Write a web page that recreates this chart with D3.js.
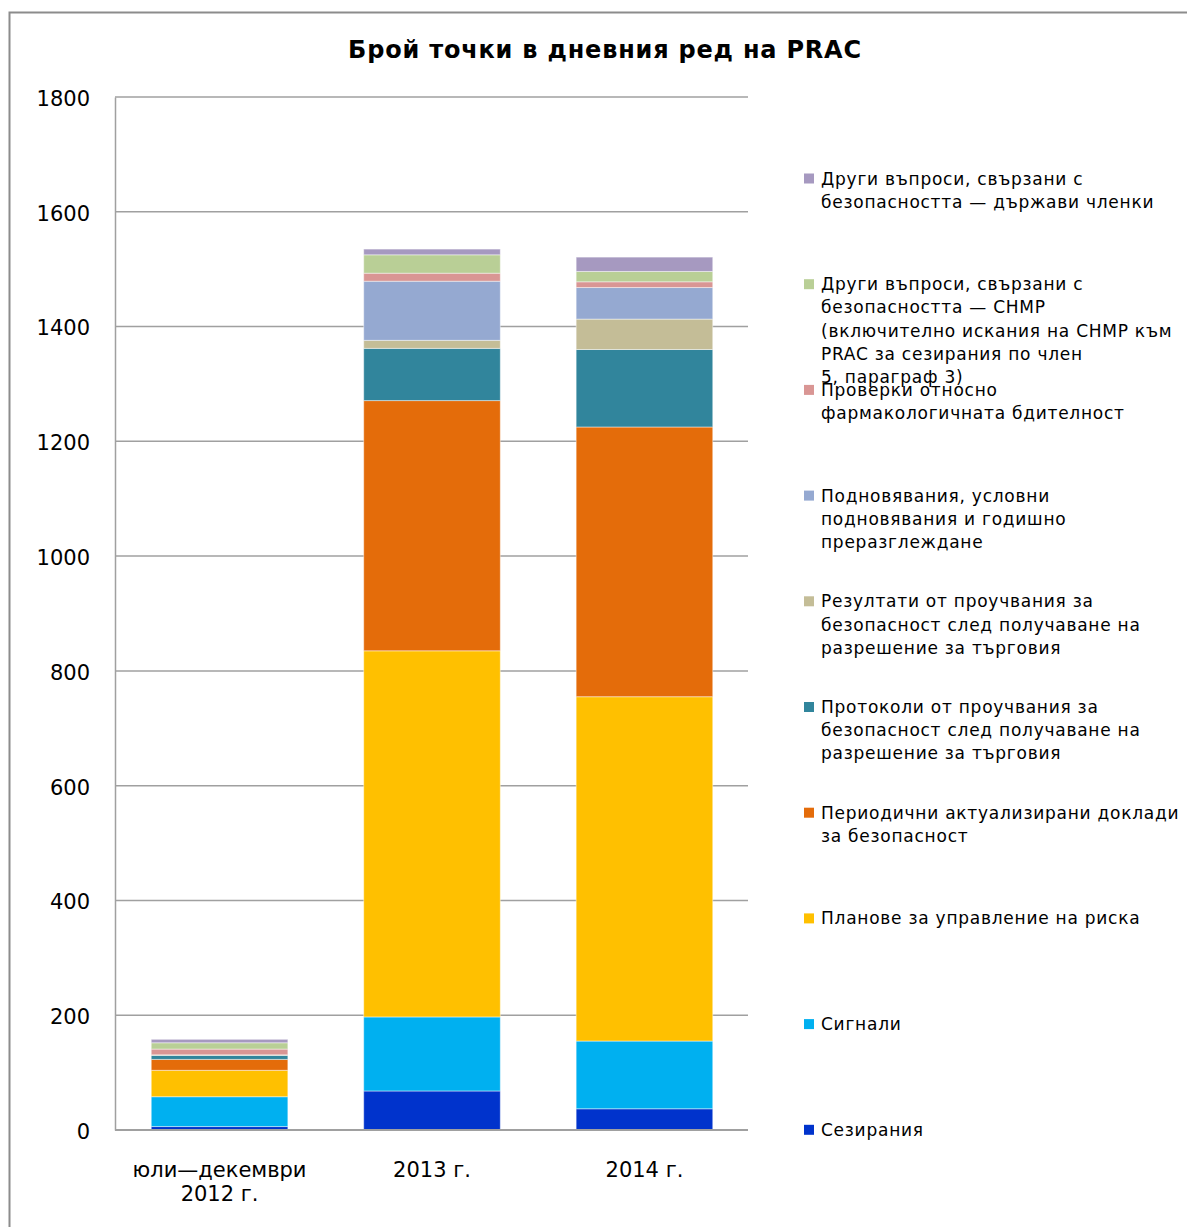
<!DOCTYPE html>
<html>
<head>
<meta charset="utf-8">
<script src="https://cdn.jsdelivr.net/npm/d3@7"></script>
<style>
  html, body { margin: 0; padding: 0; background: #fff; }
  svg { display: block; font-family: "DejaVu Sans", Verdana, sans-serif; }
</style>
</head>
<body>
<svg id="chart" width="1187" height="1227"></svg>
<script>
// ---- Data ----
const categories = ["юли—декември 2012 г.", "2013 г.", "2014 г."];
const categoryLines = [["юли—декември", "2012 г."], ["2013 г."], ["2014 г."]];
const seriesNames = [
  "Сезирания",
  "Сигнали",
  "Планове за управление на риска",
  "Периодични актуализирани доклади за безопасност",
  "Протоколи от проучвания за безопасност след получаване на разрешение за търговия",
  "Резултати от проучвания  за безопасност след получаване на разрешение за търговия",
  "Подновявания, условни подновявания и годишно преразглеждане",
  "Проверки относно фармакологичната бдителност",
  "Други въпроси, свързани с безопасността — CHMP (включително искания на CHMP към PRAC за сезирания по член 5, параграф 3)",
  "Други въпроси, свързани с безопасността — държави членки"
];
const legendLines = [
  ["Сезирания"],
  ["Сигнали"],
  ["Планове за управление на риска"],
  ["Периодични актуализирани доклади", "за безопасност"],
  ["Протоколи от проучвания за", "безопасност след получаване на", "разрешение за търговия"],
  ["Резултати от проучвания  за", "безопасност след получаване на", "разрешение за търговия"],
  ["Подновявания, условни", "подновявания и годишно", "преразглеждане"],
  ["Проверки относно", "фармакологичната бдителност"],
  ["Други въпроси, свързани с", "безопасността — CHMP", "(включително искания на CHMP към", "PRAC за сезирания по член", "5, параграф 3)"],
  ["Други въпроси, свързани с", "безопасността — държави членки"]
];
const referrals      = [6, 68, 37];
const signals        = [52, 129, 118];
const rmp            = [46, 638, 600];
const psur           = [19, 436, 470];
const pass_protocols = [7, 91, 135];
const pass_results   = [1, 14, 53];
const renewals       = [0, 103, 55];
const inspections    = [10, 14, 10];
const other_chmp     = [11, 32, 18];
const other_ms       = [6, 10, 25];
const seriesValues = [referrals, signals, rmp, psur, pass_protocols, pass_results, renewals, inspections, other_chmp, other_ms];
const colors = ["#0033CC", "#00B0F0", "#FFC000", "#E46C0A", "#31859C", "#C4BD97", "#95A9D1", "#D99694", "#B9CF96", "#A699C0"];
const yTicks = [0, 200, 400, 600, 800, 1000, 1200, 1400, 1600, 1800];
const title = "Брой точки в дневния ред на PRAC";

// ---- Layout ----
const svg = d3.select("#chart");
const plot = { left: 115, right: 748, top: 97, bottom: 1130 };

// frame
svg.append("path")
  .attr("d", "M9.5,1227 L9.5,12.5 L1187,12.5")
  .attr("fill", "none").attr("stroke", "#8c8c8c").attr("stroke-width", 2);

svg.append("text")
  .attr("x", 605).attr("y", 58)
  .attr("text-anchor", "middle")
  .attr("font-size", 24).attr("font-weight", "bold")
  .attr("letter-spacing", 0.8)
  .attr("fill", "#000")
  .text(title);

const x = d3.scaleBand().domain(categories).range([113, 751])
  .paddingInner(0.357).paddingOuter(0.18);
const y = d3.scaleLinear().domain([0, 1800]).range([plot.bottom, plot.top]);

// gridlines
svg.append("g").selectAll("line").data(yTicks.filter(d => d > 0)).join("line")
  .attr("x1", plot.left).attr("x2", plot.right)
  .attr("y1", d => y(d)).attr("y2", d => y(d))
  .attr("stroke", "#a0a0a0").attr("stroke-width", 1.5);

// y axis
const yAxis = svg.append("g").attr("transform", `translate(${plot.left},0)`)
  .call(d3.axisLeft(y).tickValues(yTicks).tickSize(0).tickPadding(25).tickFormat(d3.format("d")));
yAxis.select(".domain").attr("stroke", "#a0a0a0").attr("stroke-width", 1.5);
yAxis.selectAll("text").attr("font-size", 21).attr("fill", "#000")
  .attr("font-family", "DejaVu Sans, Verdana, sans-serif").attr("dy", "0.4em");

// stacked bars
const table = categories.map((c, i) => {
  const o = { cat: c };
  seriesNames.forEach((s, j) => { o[s] = seriesValues[j][i]; });
  return o;
});
const stack = d3.stack().keys(seriesNames)(table);
svg.append("g").selectAll("g").data(stack).join("g")
  .attr("fill", (d, i) => colors[i])
  .selectAll("rect").data(d => d).join("rect")
  .attr("x", d => x(d.data.cat))
  .attr("width", x.bandwidth())
  .attr("y", d => y(d[1]))
  .attr("height", d => Math.max(0, y(d[0]) - y(d[1])))
  .attr("stroke", "rgba(255,255,255,0.45)").attr("stroke-width", 1);

// x axis
const xAxis = svg.append("g").attr("transform", `translate(0,${plot.bottom})`)
  .call(d3.axisBottom(x).tickSize(0).tickFormat(""));
xAxis.select(".domain").attr("stroke", "#a0a0a0").attr("stroke-width", 2)
  .attr("d", `M${plot.left},0H${plot.right}`);
svg.append("g").selectAll("text").data(categories).join("text")
  .attr("x", d => x(d) + x.bandwidth() / 2)
  .attr("y", 1177)
  .attr("text-anchor", "middle").attr("font-size", 21).attr("fill", "#000")
  .each(function (d, i) {
    d3.select(this).selectAll("tspan").data(categoryLines[i]).join("tspan")
      .attr("x", x(d) + x.bandwidth() / 2)
      .attr("dy", (t, k) => k === 0 ? 0 : 24)
      .text(t => t);
  });

// legend (top to bottom reversed order)
const legendOrder = d3.range(seriesNames.length).reverse();
const legend = svg.append("g");
legendOrder.forEach((si, k) => {
  const cy = 178.5 + k * 105.7;
  legend.append("rect")
    .attr("x", 804).attr("y", cy - 5).attr("width", 10).attr("height", 10)
    .attr("fill", colors[si]);
  const t = legend.append("text")
    .attr("x", 821).attr("y", cy + 6)
    .attr("font-size", 17).attr("fill", "#000").attr("letter-spacing", 0.75);
  t.selectAll("tspan").data(legendLines[si]).join("tspan")
    .attr("x", 821).attr("dy", (s, j) => j === 0 ? 0 : 23.2)
    .text(s => s);
});
</script>
</body>
</html>
